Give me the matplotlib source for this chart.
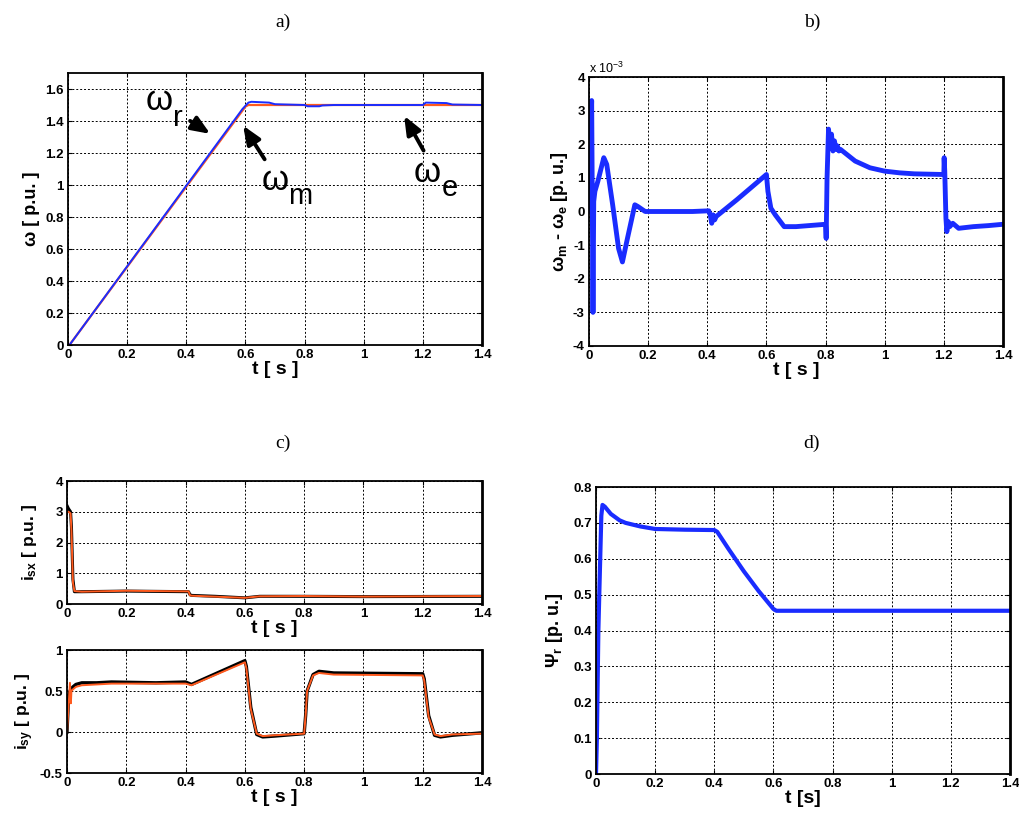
import numpy as np
import matplotlib
matplotlib.use("Agg")
import matplotlib.pyplot as plt
from matplotlib.ticker import FuncFormatter

plt.rcParams["font.family"] = ["Liberation Sans", "DejaVu Sans"]
plt.rcParams["mathtext.fontset"] = "custom"
plt.rcParams["mathtext.rm"] = "Liberation Sans"
plt.rcParams["mathtext.bf"] = "Liberation Sans:bold"
plt.rcParams["mathtext.it"] = "Liberation Sans:italic"

# a) speeds
t_wr = [0, 0.005, 0.6, 0.61, 0.8, 0.85, 1.2, 1.4]
w_r = [0, 0.0, 1.49, 1.50, 1.50, 1.50, 1.50, 1.50]
t_wm = [0, 0.005, 0.59, 0.61, 0.62, 0.68, 0.7, 0.8, 0.81, 0.85, 0.86, 0.9,
        1.2, 1.21, 1.28, 1.3, 1.4]
w_m = [0, 0.0, 1.475, 1.515, 1.52, 1.515, 1.505, 1.5, 1.492, 1.492, 1.497, 1.5,
       1.5, 1.515, 1.512, 1.503, 1.5]

# b) speed error (x 1e-3)
t_err = [0, 0.004, 0.007, 0.009, 0.011, 0.0135, 0.016, 0.02, 0.03, 0.05, 0.06,
         0.08, 0.1, 0.113, 0.13, 0.155, 0.165, 0.19, 0.25, 0.3, 0.35, 0.405,
         0.41, 0.415, 0.42, 0.425, 0.43, 0.5, 0.6, 0.605, 0.615, 0.63, 0.66,
         0.7, 0.8, 0.802, 0.805, 0.81, 0.815, 0.82, 0.825, 0.83, 0.835, 0.84,
         0.845, 0.85, 0.9, 0.95, 1.0, 1.05, 1.1, 1.2, 1.201, 1.203, 1.207,
         1.21, 1.215, 1.22, 1.23, 1.25, 1.3, 1.35, 1.4]
err = [0, 1.2, 2.5, 3.3, 0.5, -3.0, 0.3, 0.6, 0.9, 1.6, 1.4, 0.2, -1.1, -1.5,
       -0.8, 0.2, 0.15, 0.0, 0.0, 0.0, 0.0, 0.02, -0.1, -0.35, -0.1, -0.25,
       -0.15, 0.35, 1.1, 0.6, 0.1, -0.1, -0.45, -0.45, -0.38, -0.8, 1.0,
       2.45, 1.9, 2.3, 1.8, 2.1, 1.85, 1.95, 1.8, 1.85, 1.5, 1.3, 1.2, 1.15,
       1.12, 1.1, 1.6, 1.2, -0.2, -0.6, -0.3, -0.45, -0.35, -0.5, -0.45,
       -0.42, -0.38]

# c) stator currents
t_isx = [0, 0.005, 0.012, 0.015, 0.02, 0.025, 0.05, 0.2, 0.41, 0.415, 0.42,
         0.5, 0.6, 0.65, 0.8, 1.0, 1.4]
isx_ref = [3.2, 3.1, 3.0, 2.5, 0.8, 0.4, 0.4, 0.42, 0.4, 0.3, 0.28, 0.25,
           0.2, 0.25, 0.25, 0.24, 0.25]
isx = [3.0, 3.0, 2.95, 2.4, 0.7, 0.42, 0.4, 0.43, 0.41, 0.28, 0.27, 0.24,
       0.2, 0.25, 0.26, 0.24, 0.26]
t_isy = [0, 0.005, 0.01, 0.013, 0.015, 0.02, 0.03, 0.05, 0.1, 0.15, 0.3,
         0.4, 0.42, 0.6, 0.605, 0.62, 0.64, 0.66, 0.7, 0.8, 0.805, 0.81,
         0.83, 0.85, 0.9, 1.2, 1.205, 1.22, 1.24, 1.26, 1.3, 1.4]
isy_ref = [0.0, 0.4, 0.5, 0.52, 0.53, 0.55, 0.58, 0.6, 0.6, 0.61, 0.6,
           0.61, 0.58, 0.87, 0.8, 0.3, -0.03, -0.06, -0.05, -0.02, 0.2,
           0.5, 0.7, 0.74, 0.72, 0.71, 0.65, 0.2, -0.04, -0.06, -0.04, -0.01]
isy = [0.0, 0.3, 0.6, 0.35, 0.5, 0.52, 0.55, 0.57, 0.58, 0.59, 0.59, 0.59,
       0.57, 0.85, 0.78, 0.28, -0.02, -0.05, -0.04, -0.02, 0.2, 0.5, 0.69,
       0.72, 0.7, 0.69, 0.63, 0.18, -0.03, -0.05, -0.03, -0.02]

# d) rotor flux
t_psi = [0, 0.003, 0.008, 0.012, 0.018, 0.022, 0.03, 0.05, 0.08, 0.1, 0.15,
         0.2, 0.3, 0.4, 0.41, 0.45, 0.5, 0.55, 0.6, 0.61, 1.4]
psi = [0, 0.1, 0.4, 0.53, 0.72, 0.75, 0.745, 0.725, 0.707, 0.7, 0.69, 0.683,
       0.681, 0.68, 0.675, 0.625, 0.565, 0.51, 0.46, 0.455, 0.455]

x_ticks = [0, 0.2, 0.4, 0.6, 0.8, 1.0, 1.2, 1.4]

BLUE = "#1a2cff"
ORANGE = "#ff5a1e"
W, H = 1020, 813


def add_ax(fig, left, top, right, bottom):
    return fig.add_axes([left / W, 1 - bottom / H, (right - left) / W, (bottom - top) / H])


def style(ax, yticks, ylim, xlabel="t [ s ]"):
    ax.set_xlim(0, 1.4)
    ax.set_ylim(*ylim)
    ax.set_xticks(x_ticks)
    ax.set_yticks(yticks)
    fmt = FuncFormatter(lambda v, p: f"{v:g}")
    ax.xaxis.set_major_formatter(fmt)
    ax.yaxis.set_major_formatter(fmt)
    ax.grid(True, color="black", linestyle=(0, (2, 2)), linewidth=0.7)
    ax.tick_params(direction="in", top=True, right=True, length=3, labelsize=9.5, pad=3)
    for lab in ax.get_xticklabels() + ax.get_yticklabels():
        lab.set_fontweight("bold")
    for s in ax.spines.values():
        s.set_linewidth(1.3)
    ax.spines["right"].set_linewidth(2)
    ax.set_xlabel(xlabel, fontsize=14, fontweight="bold", labelpad=0)


fig = plt.figure(figsize=(W / 100, H / 100), dpi=100)

for label, x, y in [("a)", 283, 22), ("b)", 812, 22), ("c)", 283, 443), ("d)", 812, 443)]:
    fig.text(x / W, 1 - y / H, label, ha="center", va="center",
             fontsize=14, family="Liberation Serif")

# a)
ax = add_ax(fig, 68, 73, 482, 345)
ax.plot(t_wr, w_r, color=ORANGE, lw=1.6)
ax.plot(t_wm, w_m, color=BLUE, lw=1.4)
style(ax, np.arange(0, 1.61, 0.2), (0, 1.7))
ax.set_ylabel("ω [ p.u. ]", fontsize=13, fontweight="bold", labelpad=4)
arrow = dict(arrowstyle="-|>,head_length=1.1,head_width=0.45", color="black", lw=2.8)
ax.annotate("", xy=(0.489, 1.31), xytext=(0.405, 1.41), arrowprops=arrow)
ax.annotate("", xy=(0.587, 1.386), xytext=(0.67, 1.146), arrowprops=arrow)
ax.annotate("", xy=(1.132, 1.448), xytext=(1.207, 1.20), arrowprops=arrow)
for txt, sub, tx, ty, sx, sy in [("ω", "r", 0.31, 1.53, 0.372, 1.42),
                                 ("ω", "m", 0.70, 1.03, 0.785, 0.93),
                                 ("ω", "e", 1.215, 1.075, 1.29, 0.98)]:
    ax.text(tx, ty, txt, fontsize=25, ha="center", va="center")
    ax.text(sx, sy, sub, fontsize=21, ha="center", va="center")

# b)
ax = add_ax(fig, 589, 77, 1003, 346)
ax.plot(t_err, err, color=BLUE, lw=3.5)
style(ax, np.arange(-4, 4.1, 1), (-4, 4))
ax.set_ylabel("ω$_\\mathbf{m}$ - ω$_\\mathbf{e}$ [p. u.]", fontsize=13,
              fontweight="bold", labelpad=2)
ax.text(0.0, 1.005, "x 10$^{-3}$", transform=ax.transAxes, fontsize=9,
        ha="left", va="bottom")

# c) top
ax = add_ax(fig, 67, 481, 482, 604)
ax.plot(t_isx, isx_ref, color="black", lw=2.2)
ax.plot(t_isx, isx, color=ORANGE, lw=1.4)
style(ax, [0, 1, 2, 3, 4], (0, 4))
ax.set_ylabel("i$_\\mathbf{sx}$ [ p.u. ]", fontsize=12.5, fontweight="bold", labelpad=12)

# c) bottom
ax = add_ax(fig, 67, 650, 482, 773)
ax.plot(t_isy, isy_ref, color="black", lw=2.4)
ax.plot(t_isy, isy, color=ORANGE, lw=1.4)
style(ax, [-0.5, 0, 0.5, 1], (-0.5, 1))
ax.set_ylabel("i$_\\mathbf{sy}$ [ p.u. ]", fontsize=12.5, fontweight="bold", labelpad=3)

# d)
ax = add_ax(fig, 596, 487, 1010, 774)
ax.plot(t_psi, psi, color=BLUE, lw=3)
style(ax, np.arange(0, 0.81, 0.1), (0, 0.8), xlabel="t [s]")
ax.set_ylabel("Ψ$_\\mathbf{r}$ [p. u.]", fontsize=13, fontweight="bold", labelpad=6)

fig.savefig("out.png", dpi=100)
